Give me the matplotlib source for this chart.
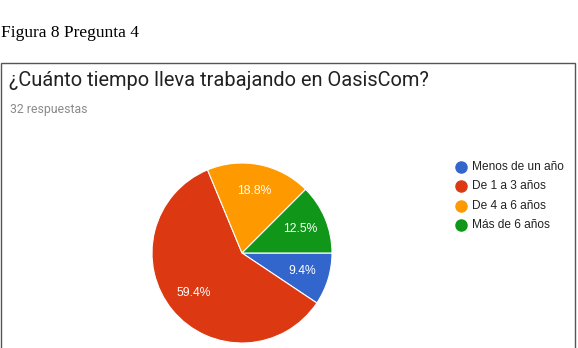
import matplotlib
matplotlib.use("Agg")
import matplotlib.pyplot as plt
from matplotlib.lines import Line2D
from matplotlib.patches import Rectangle

# Datos de la encuesta (32 respuestas)
categorias = ["Menos de un año", "De 1 a 3 años", "De 4 a 6 años", "Más de 6 años"]
respuestas = [3, 19, 6, 4]
colores = ["#3366CC", "#DC3912", "#FF9900", "#109618"]

W, H = 578, 348
fig = plt.figure(figsize=(W / 100, H / 100), dpi=100)

# Pie de figura
fig.text(1 / W, 1 - 33 / H, "Figura 8 Pregunta 4", family="Liberation Serif",
         fontsize=12.5, color="#000000", va="center", ha="left")

# Marco de la captura
fig.add_artist(Rectangle((1 / W, -0.02), (W - 4) / W, 1 - 63 / H + 0.02,
                         transform=fig.transFigure, fill=False,
                         edgecolor="#555555", linewidth=1.0))

fig.text(9 / W, 1 - 81 / H, "¿Cuánto tiempo lleva trabajando en OasisCom?",
         family="Roboto", fontsize=14.4, color="#212121", va="center", ha="left")
fig.text(10 / W, 1 - 110 / H, "32 respuestas", family="Roboto",
         fontsize=8.8, color="#8a8a8a", va="center", ha="left")

# Gráfico circular
cx, cy, r = 242, 253, 90
ax = fig.add_axes([(cx - r) / W, (H - cy - r) / H, 2 * r / W, 2 * r / H])
wedges, textos, autotextos = ax.pie(
    respuestas, colors=colores, startangle=0, counterclock=False,
    autopct="%.1f%%", pctdistance=0.7, radius=1,
    wedgeprops=dict(edgecolor="white", linewidth=0.8),
    textprops=dict(color="white", family="Liberation Sans", fontsize=8.7))
ax.set_xlim(-1, 1)
ax.set_ylim(-1, 1)
ax.set_aspect("auto")
ax.axis("off")

# Leyenda
y0, paso = 167, 19.3
for i, (cat, col) in enumerate(zip(categorias, colores)):
    y = 1 - (y0 + i * paso) / H
    fig.add_artist(Line2D([461 / W], [y], marker="o", linestyle="",
                          markersize=8, markerfacecolor=col,
                          markeredgecolor=col, transform=fig.transFigure))
    fig.text(472 / W, y, cat, family="Liberation Sans", fontsize=8.6,
             color="#222222", va="center", ha="left")

fig.savefig("out.png", dpi=100)
